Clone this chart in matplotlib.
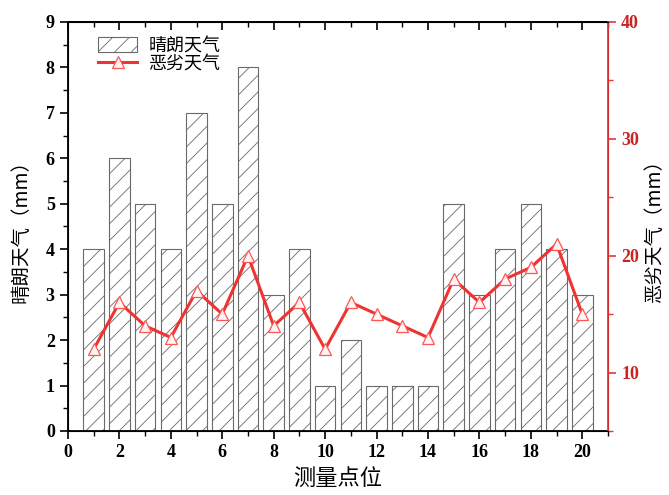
import numpy as np
import matplotlib
matplotlib.use('Agg')
from matplotlib import pyplot as plt
from matplotlib.ticker import MultipleLocator

plt.rcParams['font.family'] = ['Liberation Serif', 'Noto Sans CJK SC', 'DejaVu Sans']
plt.rcParams['hatch.color'] = '#8a8a8a'
plt.rcParams['hatch.linewidth'] = 0.6

x = np.arange(1, 21)
sunny = [4, 6, 5, 4, 7, 5, 8, 3, 4, 1, 2, 1, 1, 1, 5, 3, 4, 5, 4, 3]
bad = [12, 16, 14, 13, 17, 15, 20, 14, 16, 12, 16, 15, 14, 13, 18, 16, 18, 19, 21, 15]

cjk = ['Noto Sans CJK SC', 'DejaVu Sans']
red = '#ee3333'

fig = plt.figure(figsize=(6.69, 4.95), dpi=100)
ax = fig.add_axes([0.1016, 0.1293, 0.8072, 0.8263])
b = ax.bar(x, sunny, width=0.8, color='white', edgecolor='#6a6a6a', linewidth=0.8,
           hatch='//', label='晴朗天气')
ax.set_xlim(0, 21)
ax.set_ylim(0, 9)
ax.xaxis.set_major_locator(MultipleLocator(2))
ax.xaxis.set_minor_locator(MultipleLocator(1))
ax.yaxis.set_major_locator(MultipleLocator(1))
ax.yaxis.set_minor_locator(MultipleLocator(0.5))
ax.tick_params(axis='both', which='major', direction='out', length=6, width=1.2, labelsize=13)
ax.tick_params(axis='both', which='minor', direction='out', length=3.5, width=1.0)
for lab in ax.get_xticklabels() + ax.get_yticklabels():
    lab.set_fontweight('bold')
for s in ['left', 'bottom', 'top']:
    ax.spines[s].set_linewidth(1.3)
ax.set_xlabel('测量点位', family=cjk, fontsize=16)
ax.set_ylabel('晴朗天气（mm）', family=cjk, fontsize=14)
ax.yaxis.set_label_coords(-0.068, 0.5)

# top ticks inward
sec = ax.secondary_xaxis('top')
sec.xaxis.set_major_locator(MultipleLocator(2))
sec.xaxis.set_minor_locator(MultipleLocator(1))
sec.tick_params(which='major', direction='in', length=6, width=1.2, labeltop=False)
sec.tick_params(which='minor', direction='in', length=3.5, width=1.0)
sec.spines['top'].set_linewidth(1.3)

ax2 = ax.twinx()
l, = ax2.plot(x, bad, color=red, linewidth=2.2, marker='^', markersize=9,
              markerfacecolor='#fff5f5', markeredgecolor='#ff5555', markeredgewidth=0.9,
              label='恶劣天气')
ax2.set_ylim(5, 40)
ax2.yaxis.set_major_locator(MultipleLocator(10))
ax2.yaxis.set_minor_locator(MultipleLocator(5))
ax2.tick_params(axis='y', which='major', direction='out', length=6, width=1.2,
                colors=red, labelsize=13, labelcolor='#cc2222')
ax2.tick_params(axis='y', which='minor', direction='out', length=3.5, width=1.0, colors=red)
for lab in ax2.get_yticklabels():
    lab.set_fontweight('bold')
ax2.spines['right'].set_color(red)
ax2.spines['right'].set_linewidth(1.3)
ax2.set_ylabel('恶劣天气（mm）', family=cjk, fontsize=14)
ax2.yaxis.set_label_coords(1.066, 0.5)

leg = ax.legend([b, l], ['晴朗天气', '恶劣天气'], loc='upper left', frameon=False,
                prop={'family': cjk, 'size': 13}, bbox_to_anchor=(0.035, 0.99),
                handlelength=2.2, handleheight=0.9, handletextpad=0.6, labelspacing=0.0,
                borderaxespad=0.2)

fig.savefig('out.png', dpi=100)
